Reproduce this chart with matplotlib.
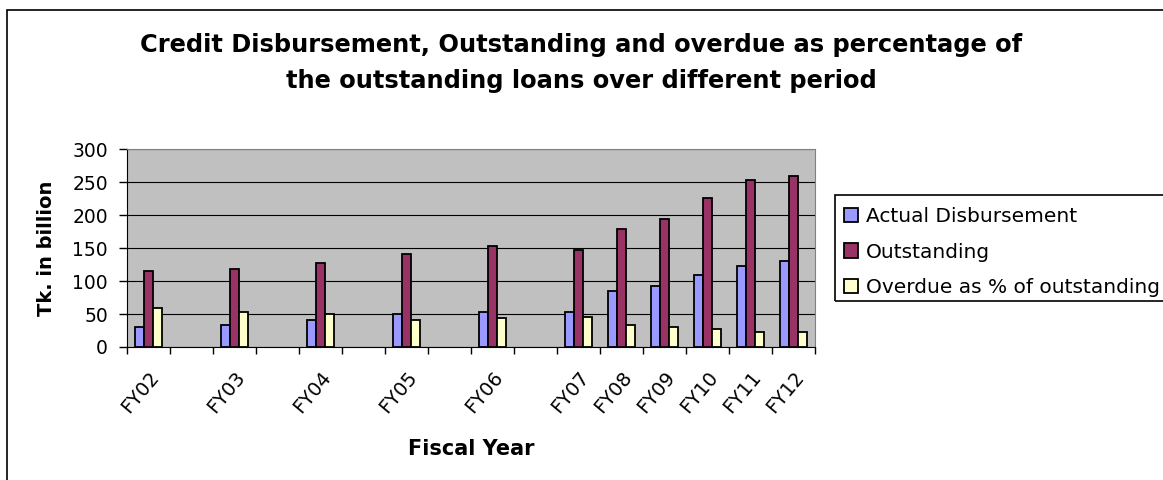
import numpy as np
import matplotlib
matplotlib.use("Agg")
import matplotlib.pyplot as plt
from matplotlib.patches import Rectangle
from matplotlib.transforms import ScaledTranslation

# Category axis keeps the empty slots between the early fiscal years
CATEGORIES = ["FY02", "", "FY03", "", "FY04", "", "FY05", "", "FY06", "",
              "FY07", "FY08", "FY09", "FY10", "FY11", "FY12"]
NA = np.nan
ACTUAL_DISBURSEMENT = [31, NA, 33, NA, 41, NA, 49.5, NA, 53.5, NA,
                       53.5, 85, 92.5, 110, 123, 131]
OUTSTANDING = [115, NA, 118, NA, 128, NA, 141, NA, 154, NA,
               146.5, 179, 194.5, 226, 254, 259]
OVERDUE_PCT = [59, NA, 53.5, NA, 49.5, NA, 41, NA, 43.5, NA,
               46, 33, 31, 28, 23.5, 23.5]

SERIES = [
    ("Actual Disbursement", ACTUAL_DISBURSEMENT, "#9999FF"),
    ("Outstanding", OUTSTANDING, "#993366"),
    ("Overdue as % of outstanding", OVERDUE_PCT, "#FFFFCC"),
]

W, H = 1163, 480


def main():
    plt.rcParams["font.family"] = ["DejaVu Sans"]
    fig = plt.figure(figsize=(W / 100, H / 100), dpi=100)
    ax = fig.add_axes([127.3 / W, 1 - 347 / H, (815 - 127.3) / W, (347 - 149.3) / H])
    ax.set_facecolor("#C0C0C0")

    x = np.arange(len(CATEGORIES))
    bar_w = 1 / 1.6 / 3
    for i, (name, vals, color) in enumerate(SERIES):
        ax.bar(x + (i - 1) * bar_w, vals, width=bar_w, color=color,
               edgecolor="black", linewidth=1.3, label=name, zorder=3)

    ax.set_xlim(-0.5, len(CATEGORIES) - 0.5)
    ax.set_ylim(0, 300)
    ax.set_yticks(np.arange(0, 301, 50))
    ax.yaxis.grid(True, color="black", linewidth=0.8, zorder=1)
    ax.set_axisbelow(True)

    ax.set_xticks(x)
    ax.set_xticklabels(CATEGORIES, rotation=50, ha="right", va="top",
                       rotation_mode="anchor", fontsize=14)
    # nudge the slanted labels so they end just left of the bar groups
    shift = ScaledTranslation(-4 / 100, 0, fig.dpi_scale_trans)
    for lbl in ax.get_xticklabels():
        lbl.set_transform(lbl.get_transform() + shift)
    ax.set_xticks(np.arange(-0.5, len(CATEGORIES)), minor=True)
    ax.tick_params(axis="x", which="major", length=0, pad=15)
    ax.tick_params(axis="x", which="minor", length=5, width=1, color="black")
    ax.tick_params(axis="y", length=5.5, width=1, pad=8.5, labelsize=13.5)

    for side in ("top", "right"):
        ax.spines[side].set_color("#808080")
    for side in ("left", "bottom"):
        ax.spines[side].set_color("black")

    ax.set_ylabel("Tk. in billion", fontsize=14, fontweight="bold", labelpad=12)
    ax.set_xlabel("Fiscal Year", fontsize=15, fontweight="bold", labelpad=16)

    fig.text(0.5, 1 - 63 / H,
             "Credit Disbursement, Outstanding and overdue as percentage of\n"
             "the outstanding loans over different period",
             ha="center", va="center", fontsize=17.4, fontweight="bold",
             linespacing=1.62)

    # outer chart border and legend frame run off the right edge
    fig.add_artist(Rectangle((7 / W, -0.1), 1.1, 1 - 10 / H + 0.1,
                             transform=fig.transFigure, fill=False,
                             edgecolor="black", linewidth=1.2))
    fig.add_artist(Rectangle((835 / W, 1 - 301 / H), 1.0, 106 / H,
                             transform=fig.transFigure, fill=False,
                             edgecolor="black", linewidth=1.2))

    handles, labels = ax.get_legend_handles_labels()
    fig.legend(handles, labels, loc="upper left",
               bbox_to_anchor=(836 / W, 1 - 199 / H), frameon=False,
               fontsize=14.5, handlelength=0.7, handleheight=0.7,
               handletextpad=0.4, labelspacing=0.82, borderaxespad=0)

    fig.savefig("out.png", dpi=100)


if __name__ == "__main__":
    main()
